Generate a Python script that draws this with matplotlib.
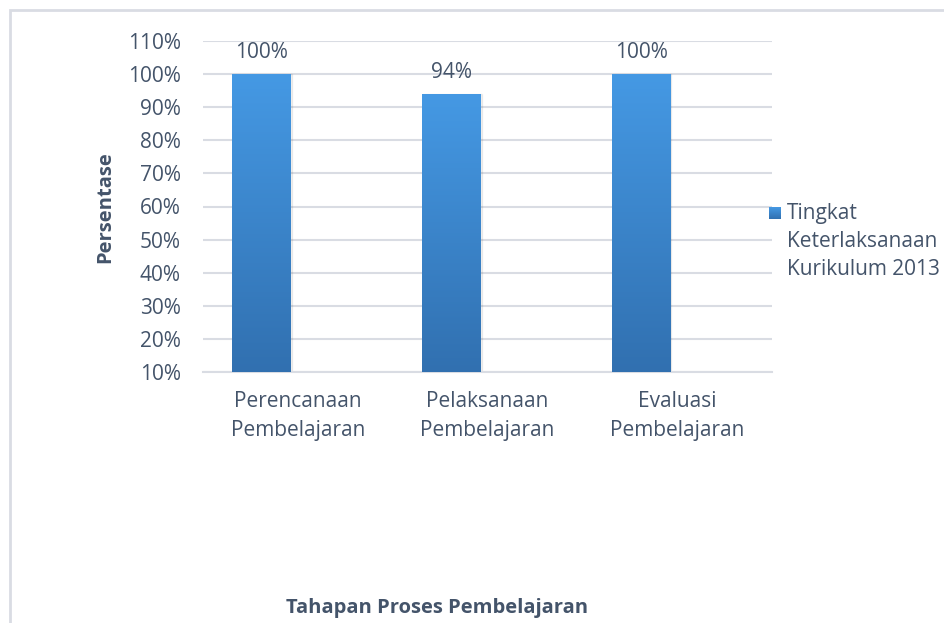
import numpy as np
import matplotlib.pyplot as plt
from matplotlib.colors import LinearSegmentedColormap
from matplotlib.patches import Rectangle

categories = ["Perencanaan\nPembelajaran", "Pelaksanaan\nPembelajaran", "Evaluasi\nPembelajaran"]
values = [100, 94, 100]
value_labels = ["100%", "94%", "100%"]
yticks = [10, 20, 30, 40, 50, 60, 70, 80, 90, 100, 110]
series_name = "Tingkat\nKeterlaksanaan\nKurikulum 2013"

plt.rcParams['font.family'] = ['Open Sans', 'DejaVu Sans']
text_color = '#44546A'
grid_color = '#D9DCE3'
grad = LinearSegmentedColormap.from_list('bar', ['#3170B0', '#4599E4'])
gradient = np.linspace(0, 1, 256).reshape(-1, 1)

fig = plt.figure(figsize=(9.44, 6.23), dpi=100)

# chart border (cut off at right and bottom like the source)
fig.patches.append(Rectangle((10 / 944, -0.1), 1.2, 1 - 10 / 623 + 0.1,
                             transform=fig.transFigure, fill=False,
                             edgecolor=grid_color, lw=2, zorder=0))

ax = fig.add_axes([203 / 944, 1 - 372 / 623, 569 / 944, 331 / 623])

x = np.arange(len(categories)) - 0.19
bw = 0.31
bars = ax.bar(x, [v - 10 for v in values], bottom=10, width=bw, color='none', zorder=3)
for b, v, lab in zip(bars, values, value_labels):
    x0 = b.get_x()
    # soft shadow
    ax.add_patch(Rectangle((x0 + 0.005, 10), bw, v - 10, color='#000000', alpha=0.06, zorder=2))
    im = ax.imshow(gradient, cmap=grad, origin='lower', aspect='auto',
                   extent=[x0, x0 + bw, 10, v], zorder=3)
    im.set_clip_path(b)
    ax.annotate(lab, (x0 + bw / 2, v), xytext=(0, 8), textcoords='offset points',
                ha='center', va='bottom', fontsize=15, color=text_color)

ax.set_xlim(-0.5, 2.5)
ax.set_ylim(10, 110)
ax.set_yticks(yticks)
ax.set_yticklabels([f"{t}%" for t in yticks])
ax.set_xticks(np.arange(len(categories)))
ax.set_xticklabels(categories, linespacing=1.5)
ax.tick_params(axis='y', length=0, pad=16, labelsize=15, labelcolor=text_color)
ax.tick_params(axis='x', length=0, pad=14, labelsize=15, labelcolor=text_color)
ax.grid(axis='y', color=grid_color, lw=1.5, zorder=0)
for s in ['top', 'right', 'left']:
    ax.spines[s].set_visible(False)
ax.spines['bottom'].set_color(grid_color)
ax.spines['bottom'].set_linewidth(1.5)

fig.text(105 / 944, 1 - 207 / 623, "Persentase", rotation=90, ha='center', va='center',
         fontsize=14.5, fontweight='bold', color=text_color)
fig.text(437 / 944, 1 - 608 / 623, "Tahapan Proses Pembelajaran", ha='center', va='center',
         fontsize=14.5, fontweight='bold', color=text_color)

# legend
lax = fig.add_axes([769 / 944, 1 - 219 / 623, 12 / 944, 12 / 623])
lax.imshow(gradient, cmap=grad, origin='lower', aspect='auto')
lax.axis('off')
fig.text(787 / 944, 1 - 203 / 623, series_name, ha='left', va='top',
         fontsize=15, color=text_color, linespacing=1.45)

fig.savefig('out.png', dpi=100)
